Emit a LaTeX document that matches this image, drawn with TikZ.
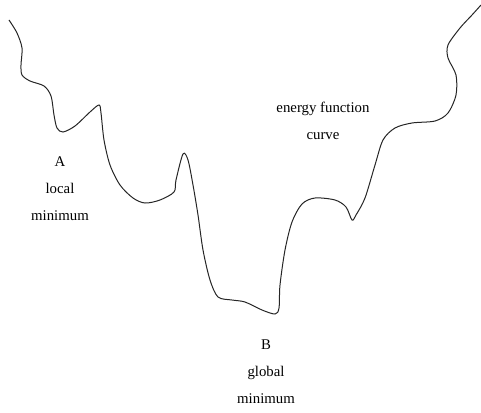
\documentclass[tikz,border=0pt]{standalone}
\usepackage{fontspec}
\setmainfont{Liberation Serif}
\begin{document}
\begin{tikzpicture}[x=1pt,y=-1pt]
\useasboundingbox (0,0) rectangle (481,412);
\tikzset{lbl/.style={align=center, font=\fontsize{14.8}{27}\selectfont, inner sep=0pt}}
% energy landscape
\draw[line width=1pt, color=black!85] plot[smooth, tension=0.5] coordinates {
 (9,20) (17,33) (22,48) (21,65) (22,75) (30,81) (44,86) (51,96) (54,115) (57,128)
 (63,132) (75,126) (90,112) (99,105) (101,113) (104,140) (110,165) (120,185) (133,198)
 (145,203) (160,200) (174,192) (176,180) (183,154) (188,160) (193,185) (198,215)
 (203,250) (210,280) (218,297) (232,300) (245,302) (262,310) (275,314) (279,308)
 (280,285) (285,250) (292,222) (302,204) (315,198) (335,200) (346,207) (352,220)
 (356,215) (365,198) (375,165) (383,140) (395,128) (412,123) (435,121) (448,113)
 (456,95) (456,75) (448,58) (448,45) (460,28) (472,15) (481,5)};
\node[lbl] (efc) at (323,121) {energy function\\curve};
\node[lbl] (locA) at (60,189) {A\\local\\minimum};
\node[lbl] (globB) at (266,372) {B\\global\\minimum};
\end{tikzpicture}
\end{document}
